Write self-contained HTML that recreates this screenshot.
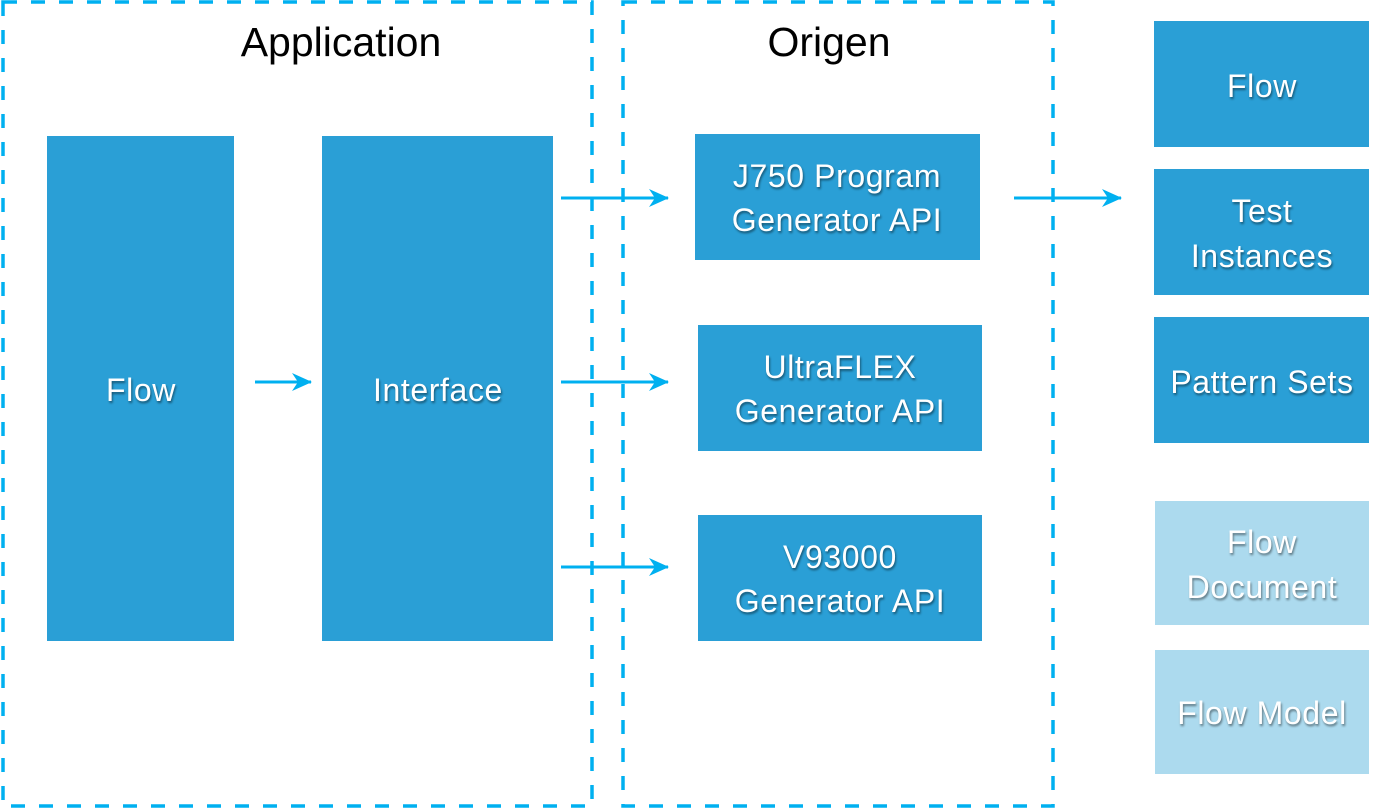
<!DOCTYPE html>
<html><head><meta charset="utf-8"><style>
body{margin:0;background:#fff}
svg{display:block}
text{font-family:"Liberation Sans",sans-serif;font-size:32px;letter-spacing:0.6px;fill:#fff;text-anchor:middle}
.t{fill:#000;font-size:41px;letter-spacing:0}
.s{filter:drop-shadow(1px 2px 1px rgba(0,0,0,0.45))}
</style></head><body>
<svg width="1381" height="809" viewBox="0 0 1381 809">
<defs><marker id="a" markerWidth="20" markerHeight="18" refX="19" refY="9" orient="auto" markerUnits="userSpaceOnUse"><path d="M0,0 L20,9 L0,18 L6,9 Z" fill="#00b0f0"/></marker></defs>
<g fill="none" stroke="#00b0f0" stroke-width="3.5" stroke-dasharray="14,14">
<rect x="3" y="2" width="589" height="804"/>
<rect x="623" y="2" width="430" height="804"/>
</g>
<text class="t" x="341" y="56" style="fill:#000">Application</text>
<text class="t" x="829" y="56" style="fill:#000">Origen</text>
<g fill="#2a9fd6">
<rect x="47" y="136" width="187" height="505"/>
<rect x="322" y="136" width="231" height="505"/>
<rect x="695" y="134" width="285" height="126"/>
<rect x="698" y="325" width="284" height="126"/>
<rect x="698" y="515" width="284" height="126"/>
<rect x="1154" y="21" width="215" height="126"/>
<rect x="1154" y="169" width="215" height="126"/>
<rect x="1154" y="317" width="215" height="126"/>
</g>
<g fill="#acdaee">
<rect x="1155" y="501" width="214" height="124"/>
<rect x="1155" y="650" width="214" height="124"/>
</g>
<g stroke="#00b0f0" stroke-width="3" marker-end="url(#a)">
<line x1="561" y1="198" x2="668" y2="198"/>
<line x1="255" y1="382" x2="311" y2="382"/>
<line x1="561" y1="382" x2="668" y2="382"/>
<line x1="561" y1="567" x2="668" y2="567"/>
<line x1="1014" y1="198" x2="1121" y2="198"/>
</g>
<g class="s">
<text x="141" y="401">Flow</text>
<text x="438" y="401">Interface</text>
<text x="837" y="187">J750 Program</text>
<text x="837" y="231">Generator API</text>
<text x="840" y="378">UltraFLEX</text>
<text x="840" y="422">Generator API</text>
<text x="840" y="568">V93000</text>
<text x="840" y="612">Generator API</text>
<text x="1262" y="97">Flow</text>
<text x="1262" y="222">Test</text>
<text x="1262" y="267">Instances</text>
<text x="1262" y="393">Pattern Sets</text>
<text x="1262" y="553">Flow</text>
<text x="1262" y="598">Document</text>
<text x="1262" y="724">Flow Model</text>
</g>
</svg>
</body></html>
